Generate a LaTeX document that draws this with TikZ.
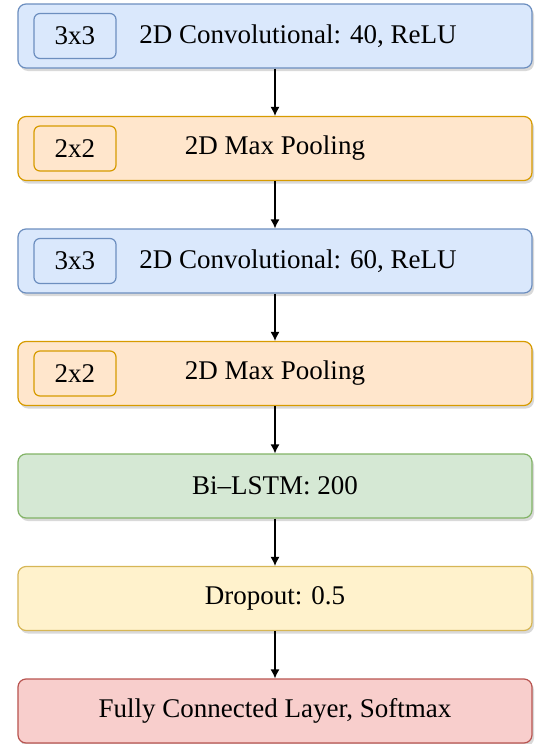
\documentclass[tikz,border=0pt]{standalone}
\usepackage{fontspec}
\setmainfont{LiberationSerif}[Extension=.ttf,UprightFont=*-Regular,BoldFont=*-Bold]
\usepackage{tikz}
\usetikzlibrary{arrows.meta, positioning, shadows}

\definecolor{convfill}{HTML}{DAE8FC}
\definecolor{convline}{HTML}{6C8EBF}
\definecolor{poolfill}{HTML}{FFE6CC}
\definecolor{poolline}{HTML}{D79B00}
\definecolor{lstmfill}{HTML}{D5E8D4}
\definecolor{lstmline}{HTML}{82B366}
\definecolor{dropfill}{HTML}{FFF2CC}
\definecolor{dropline}{HTML}{D6B656}
\definecolor{fcfill}{HTML}{F8CECC}
\definecolor{fcline}{HTML}{B85450}

\begin{document}
\begin{tikzpicture}[node distance=56.25pt,
                    font=\rmfamily\fontsize{13.5}{16}\selectfont,
                    layer/.style={rectangle,rounded corners=4pt,line width=0.6pt,
                                  minimum width=257pt,minimum height=32pt,
                                  drop shadow={opacity=0.3,shadow xshift=1pt,shadow yshift=-1.5pt}},
                    kernel/.style={rectangle,rounded corners=3pt,line width=0.6pt,
                                   minimum width=41pt,minimum height=22.5pt},
                    conv/.style={fill=convfill,draw=convline},
                    pool/.style={fill=poolfill,draw=poolline},
                    flow/.style={-{Latex[length=4.5pt,width=4.5pt]},line width=0.6pt}]

  \useasboundingbox (-137.5pt,18pt) rectangle (132.5pt,-354pt);

  \node[layer,conv] (c1) {};
  \node[layer,pool] (p1) [below of=c1] {2D Max Pooling};
  \node[layer,conv] (c2) [below of=p1] {};
  \node[layer,pool] (p2) [below of=c2] {2D Max Pooling};
  \node[layer,fill=lstmfill,draw=lstmline] (lstm) [below of=p2] {Bi--LSTM: 200};
  \node[layer,fill=dropfill,draw=dropline] (drop) [below of=lstm] {Dropout: 0.5};
  \node[layer,fill=fcfill,draw=fcline] (fc) [below of=drop] {Fully Connected Layer, Softmax};

  % kernel sizes
  \node[kernel,conv] (k1) [shift={(-100pt,0)}] at (c1) {3x3};
  \node[kernel,pool] (k2) [shift={(-100pt,0)}] at (p1) {2x2};
  \node[kernel,conv] (k3) [shift={(-100pt,0)}] at (c2) {3x3};
  \node[kernel,pool] (k4) [shift={(-100pt,0)}] at (p2) {2x2};

  \node (t1) [shift={(11.5pt,0)}] at (c1) {2D Convolutional: 40, ReLU};
  \node (t2) [shift={(11.5pt,0)}] at (c2) {2D Convolutional: 60, ReLU};

  \draw[flow] (c1) -- (p1);
  \draw[flow] (p1) -- (c2);
  \draw[flow] (c2) -- (p2);
  \draw[flow] (p2) -- (lstm);
  \draw[flow] (lstm) -- (drop);
  \draw[flow] (drop) -- (fc);

\end{tikzpicture}
\end{document}
